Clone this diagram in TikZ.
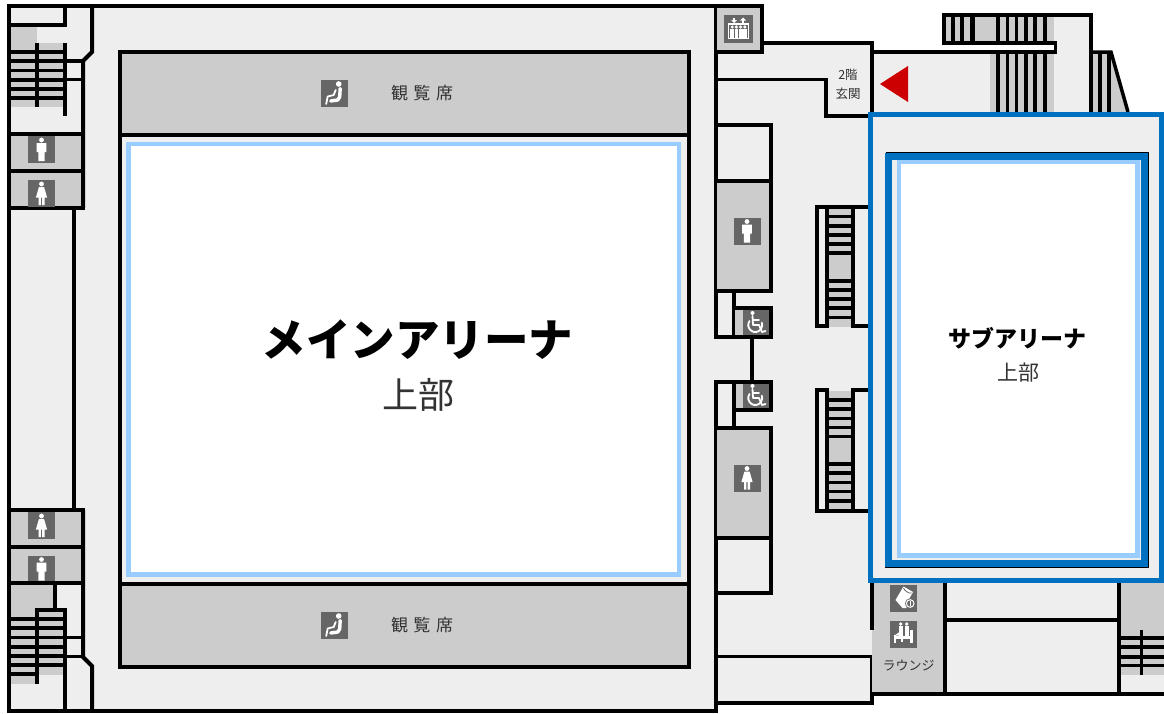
\documentclass[tikz,border=0pt]{standalone}
\usepackage{fontspec}
\newfontfamily\cjk{Noto Sans CJK JP}
\definecolor{wallfill}{HTML}{EEEEEE}
\definecolor{roomgrey}{HTML}{CCCCCC}
\definecolor{icondark}{HTML}{666666}
\definecolor{lightblue}{HTML}{99CCFF}
\definecolor{strongblue}{HTML}{0070C0}
\definecolor{signred}{HTML}{CC0000}
\definecolor{labelgrey}{HTML}{333333}
\tikzset{
  wall/.style={draw=black,line width=4pt,line cap=butt,line join=miter},
  thinwall/.style={draw=black,line width=3.5pt,line join=miter},
  tread/.style={draw=black,line width=3.3pt},
  label/.style={inner sep=0pt,text=labelgrey,font=\cjk},
  iconbg/.style={fill=icondark,draw=none},
  iconfg/.style={fill=white,draw=none},
  iconline/.style={draw=white,line width=1.8pt,line cap=round,line join=round}
}
\newcommand{\mansign}[2]{\begin{scope}[shift={(#1,#2)}]
  \fill[iconbg] (-13.5,-13.5) rectangle (13.5,13.5);
  \fill[iconfg] (0,-9.5) circle (2.4);
  \fill[iconfg] (-4.8,-6.5) -- (4.8,-6.5) -- (4.8,2.5) -- (3.2,2.5) -- (3.2,11.5) -- (-3.2,11.5) -- (-3.2,2.5) -- (-4.8,2.5) -- cycle;
\end{scope}}
\newcommand{\womansign}[2]{\begin{scope}[shift={(#1,#2)}]
  \fill[iconbg] (-13.5,-13.5) rectangle (13.5,13.5);
  \fill[iconfg] (0,-9.5) circle (2.4);
  \fill[iconfg] (-2.6,-6.5) -- (2.6,-6.5) -- (5.6,4) -- (3,4) -- (3,11.5) -- (.6,11.5) -- (.6,4) -- (-.6,4) -- (-.6,11.5) -- (-3,11.5) -- (-3,4) -- (-5.6,4) -- cycle;
\end{scope}}
\newcommand{\wheelsign}[2]{\begin{scope}[shift={(#1,#2)}]
  \fill[iconbg] (-13,-13) rectangle (13,13);
  \fill[iconfg] (-3.5,-10) circle (2);
  \draw[iconline] (-3.5,-7) -- (-3,2) -- (3,2) -- (6,9) -- (9.5,8);
  \draw[iconline] (-3,-3) -- (3,-3);
  \draw[iconline] (-6.5,-2) arc[start angle=215,end angle=-20,radius=7];
\end{scope}}
\newcommand{\seatsign}[2]{\begin{scope}[shift={(#1,#2)}]
  \fill[iconbg] (-13.5,-13.5) rectangle (13.5,13.5);
  \fill[iconfg] (4,-9) circle (2.8);
  \draw[iconline,line width=3.4pt] (5.5,-4.5) -- (5,4) -- (3,7) -- (-4,8);
  \draw[iconline,line width=1.8pt] (1,-3) -- (-1,2) -- (-7,3.5) -- (-8.5,11);
\end{scope}}
\newcommand{\liftsign}[2]{\begin{scope}[shift={(#1,#2)}]
  \fill[iconbg] (-14.5,-14) rectangle (14.5,14);
  \draw[white,line width=1.2pt] (-10,9.5) -- (-10,-5) -- (10,-5) -- (10,9.5) -- cycle;
  \foreach \px in {-6.3,-2.1,2.1,6.3}{
    \fill[iconfg] (\px,-2) circle (1.7);
    \fill[iconfg] (\px-1.9,-.5) rectangle (\px+1.9,9);
  }
  \fill[iconfg] (-4.5,-6) -- (-1.5,-9) -- (-7.5,-9) -- cycle;
  \fill[iconfg] (-5.2,-11) rectangle (-3.8,-8.5);
  \fill[iconfg] (4.5,-11.5) -- (1.5,-8.5) -- (7.5,-8.5) -- cycle;
  \fill[iconfg] (3.8,-9) rectangle (5.2,-6);
\end{scope}}
\newcommand{\smokesign}[2]{\begin{scope}[shift={(#1,#2)}]
  \fill[iconbg] (-13.5,-13.5) rectangle (13.5,13.5);
  \fill[iconfg] (-8,2) -- (0,-11.5) -- (9.5,-6) -- (5,2) -- (3,10) -- (-1,10) -- cycle;
  \draw[icondark,line width=.8pt] (0,-10) .. controls (1,-7) and (6,-4) .. (8,-5);
  \fill[iconbg] (6.7,5.5) circle (5.2);
  \draw[white,fill=icondark,line width=1pt] (6.7,5.5) circle (3.8);
  \fill[iconfg] (6.1,3.4) rectangle (7.3,7.6);
\end{scope}}
\newcommand{\loungesign}[2]{\begin{scope}[shift={(#1,#2)}]
  \fill[iconbg] (-13.5,-13.5) rectangle (13.5,13.5);
  \fill[iconfg] (-2.7,-10) circle (1.9);
  \fill[iconfg] (3.3,-10) circle (1.9);
  \fill[iconfg] (-4.2,-8) rectangle (-1,2);
  \fill[iconfg] (1.8,-8) rectangle (5,2);
  \fill[iconfg] (-9.5,1.5) -- (9.5,1.5) -- (9.5,5) -- (-9.5,5) -- cycle;
  \fill[iconfg] (-9,1.5) -- (-4,-2) -- (-4,1.5) -- cycle;
  \fill[iconfg] (-9.5,1) rectangle (-7.5,9);
  \fill[iconfg] (6.8,-4) rectangle (9.5,9);
  \fill[iconfg] (-3,5) rectangle (-1,8);
\end{scope}}
\begin{document}
\begin{tikzpicture}[x=1pt,y=-1pt]
\useasboundingbox (0,0) rectangle (1164,713);
\fill[white] (0,0) rectangle (1164,713);

% ---------- floor fills ----------
\fill[wallfill] (9,6) rectangle (716,711);
\fill[wallfill] (715,43) -- (872,43) -- (872,703) -- (715,703) -- cycle;
\fill[wallfill] (872,52) -- (1111,52) -- (1128,112) -- (1164,112) -- (1164,693) -- (872,693) -- cycle;
\fill[wallfill] (1054,15) rectangle (1091,60);

% ---------- main arena ----------
\fill[roomgrey] (120,53) rectangle (688,134);
\fill[roomgrey] (120,585) rectangle (688,666);
\fill[white] (127,143) rectangle (680,575);
\draw[lightblue,line width=4.5pt] (128.5,144) rectangle (679,574.5);
\draw[wall] (119.5,52) rectangle (688.5,667);
\draw[wall] (119.5,134.5) -- (688.5,134.5);
\draw[wall] (119.5,583.5) -- (688.5,583.5);

% ---------- left block, upper ----------
\fill[roomgrey] (11,26) rectangle (37,107);
\fill[roomgrey] (37,43) rectangle (64,107);
\fill[roomgrey] (11,136) rectangle (81,207);
\draw[wall] (92,6) -- (92,52) -- (83,61) -- (83,208);
\draw[wall] (64.5,6) -- (64.5,24.5) -- (9,24.5);
\draw[wall] (37,43) -- (37,107);
\draw[wall] (64.5,43) -- (64.5,116);
\foreach \ty in {52,61,70.5,80,89,98}{\draw[tread] (9,\ty) -- (64.5,\ty);}
\draw[thinwall] (64.5,61) -- (83,61);
\draw[thinwall] (64.5,79.5) -- (83,79.5);
\draw[wall] (9,134) -- (83,134);
\draw[wall] (9,171) -- (83,171);
\draw[wall] (9,208) -- (85,208);
\draw[wall] (73.5,208) -- (73.5,510);
\mansign{41.5}{149.5}
\womansign{41.5}{193.5}

% ---------- left block, lower ----------
\fill[roomgrey] (11,512) rectangle (81,582);
\fill[roomgrey] (11,585) rectangle (54,610);
\fill[roomgrey] (11,610) rectangle (37,684);
\fill[roomgrey] (37,610) rectangle (64,675);
\womansign{41.5}{525.5}
\mansign{41.5}{569}
\draw[wall] (9,510) -- (85,510);
\draw[wall] (9,547) -- (83,547);
\draw[wall] (9,583) -- (83,583);
\draw[wall] (83,510) -- (83,657) -- (92,666) -- (92,711);
\draw[wall] (55,583) -- (55,610);
\draw[wall] (35,610) -- (66.5,610);
\draw[wall] (37,608) -- (37,684);
\draw[wall] (64.5,608) -- (64.5,711);
\foreach \ty in {619,628,637.5,647,656,665}{\draw[tread] (9,\ty) -- (64.5,\ty);}
\draw[tread] (9,674) -- (37,674);
\draw[thinwall] (64.5,637.5) -- (83,637.5);
\draw[thinwall] (64.5,656.5) -- (83,656.5);

% ---------- outer frame of main block ----------
\draw[wall] (9,4) -- (9,713);
\draw[wall] (7,6) -- (715.5,6);
\draw[wall] (7,711) -- (717.5,711);
\draw[wall] (715.5,6) -- (715.5,339);
\draw[wall] (715.5,380) -- (715.5,713);

% ---------- lift, entrance ----------
\fill[roomgrey] (717,8) rectangle (760,50);
\draw[wall] (715.5,6) -- (761.5,6) -- (761.5,52) -- (715.5,52);
\liftsign{738.5}{29}
\draw[thinwall] (761.5,43) -- (872,43) -- (872,116);
\draw[thinwall] (715.5,79.5) -- (826,79.5) -- (826,116) -- (872,116);
\node[label,font=\cjk\fontsize{12.5}{12.5}\selectfont] (floor) at (848,75) {2階};
\node[label,font=\cjk\fontsize{12.5}{12.5}\selectfont] (entrance) at (848,94) {玄関};
\fill[signred] (880,84) -- (908,66) -- (908,102) -- cycle;

% ---------- top-right stairs ----------
\fill[roomgrey] (945,17) rectangle (1054,42);
\fill[roomgrey] (990,54) rectangle (1054,112);
\fill[roomgrey] (1091,52) -- (1111,52) -- (1128,112) -- (1091,112) -- cycle;
\foreach \sx in {953,962,972,998,1007.7,1016.7,1026,1035,1045}{\draw[tread] (\sx,15) -- (\sx,43);}
\draw[wall] (972.5,15) -- (972.5,43);
\foreach \sx in {998,1007.7,1016.7,1026,1035,1045}{\draw[tread] (\sx,52) -- (\sx,112);}
\foreach \sx in {1100,1109}{\draw[thinwall] (\sx,52) -- (\sx,112);}
\draw[thinwall] (872,52) -- (1055.5,52) -- (1055.5,43) -- (944,43) -- (944,15) -- (1091,15) -- (1091,112);
\draw[thinwall] (1091,52) -- (1111,52) -- (1128,112);

% ---------- middle toilets ----------
\fill[roomgrey] (717,181) rectangle (769,290);
\fill[roomgrey] (717,429) rectangle (769,536);
\draw[wall] (715.5,125) -- (770.5,125) -- (770.5,292.5);
\draw[wall] (715.5,181) -- (770.5,181);
\draw[wall] (715.5,290.5) -- (770.5,290.5);
\mansign{747}{231}
\draw[wall] (733.5,290) -- (733.5,337);
\fill[roomgrey] (735,309) rectangle (744,336);
\wheelsign{756}{323}
\draw[wall] (731.5,308) -- (770.5,308) -- (770.5,337) -- (715.5,337);
\draw[wall] (752,337) -- (752,382);
\fill[roomgrey] (735,383) rectangle (744,409);
\wheelsign{756}{396}
\draw[wall] (715.5,382) -- (770.5,382) -- (770.5,410) -- (731.5,410);
\draw[wall] (733.5,382) -- (733.5,427);
\draw[wall] (715.5,427.5) -- (770.5,427.5);
\draw[wall] (770.5,425.5) -- (770.5,592.5) -- (715.5,592.5);
\draw[wall] (715.5,537.5) -- (770.5,537.5);
\womansign{747}{478}

% ---------- middle stairs ----------
\fill[roomgrey] (828,209) rectangle (851,327);
\foreach \ty in {216.7,226,235,244,253,281,290,299,308,317.7}{\draw[tread] (826,\ty) -- (852,\ty);}
\draw[wall] (816.5,328) -- (816.5,207) -- (868,207);
\draw[wall] (814.5,326) -- (826.5,326);
\draw[wall] (852.5,326) -- (868,326);
\draw[wall] (826.5,207) -- (826.5,328);
\draw[wall] (852.5,207) -- (852.5,328);
\fill[roomgrey] (828,391) rectangle (851,510);
\foreach \ty in {400,409,418.7,427.7,436.7,464,473,482.7,491.7,501}{\draw[tread] (826,\ty) -- (852,\ty);}
\draw[wall] (816.5,388) -- (816.5,510.5) -- (868,510.5);
\draw[wall] (814.5,390) -- (826.5,390);
\draw[wall] (852.5,390) -- (868,390);
\draw[wall] (826.5,388) -- (826.5,510.5);
\draw[wall] (852.5,388) -- (852.5,510.5);

% ---------- bottom right ----------
\draw[thinwall] (715.5,656.5) -- (872,656.5) -- (872,703) -- (715.5,703);
\fill[roomgrey] (872,583) rectangle (944,692);
\fill[roomgrey] (1120,583) rectangle (1164,675);
\foreach \ty in {638,647,657,665.7}{\draw[tread] (1118,\ty) -- (1164,\ty);}
\draw[tread] (1141.5,630) -- (1141.5,675);
\draw[thinwall] (872,583) -- (872,629.5);
\draw[wall] (944.5,583) -- (944.5,693);
\draw[thinwall] (944.5,620) -- (1118,620);
\draw[wall] (1118.5,583) -- (1118.5,693);
\draw[wall] (870.5,693.5) -- (1164,693.5);
\smokesign{903.5}{598}
\loungesign{903.5}{634}
\node[label,font=\cjk\fontsize{13}{13}\selectfont] (lounge) at (908.5,666) {ラウンジ};

% ---------- sub arena ----------
\fill[wallfill] (870,114) rectangle (1164,581);
\fill[white] (899,164) rectangle (1137,556);
\draw[black,line width=1pt] (886,152.5) -- (1148,152.5);
\draw[black,line width=1pt] (885,567.5) -- (1148.5,567.5) -- (1148.5,152);
\draw[strongblue,line width=7pt] (888.5,156) rectangle (1144.5,563.5);
\draw[lightblue,line width=4.5pt] (899,162) rectangle (1137.3,555.5);
\draw[strongblue,line width=5.5pt] (870.5,114.5) rectangle (1161.5,580.5);

% ---------- labels ----------
\seatsign{334.7}{93}
\seatsign{334.7}{625}
\node[label,font=\cjk\fontsize{17}{17}\selectfont] (seatA) at (422,93) {観\hspace{5.5pt}覧\hspace{5.5pt}席};
\node[label,font=\cjk\fontsize{17}{17}\selectfont] (seatB) at (422,625) {観\hspace{5.5pt}覧\hspace{5.5pt}席};
\node[inner sep=0pt,font=\cjk\bfseries\fontsize{44.5}{44.5}\selectfont] (mainarena) at (417.5,340) {メインアリーナ};
\node[inner sep=0pt,text=labelgrey,font=\cjk\fontsize{36}{36}\selectfont] (mainup) at (418,395) {上部};
\node[inner sep=0pt,font=\cjk\bfseries\fontsize{23}{23}\selectfont] (subarena) at (1017,338) {サブアリーナ};
\node[inner sep=0pt,text=labelgrey,font=\cjk\fontsize{21}{21}\selectfont] (subup) at (1018,373) {上部};
\end{tikzpicture}
\end{document}
